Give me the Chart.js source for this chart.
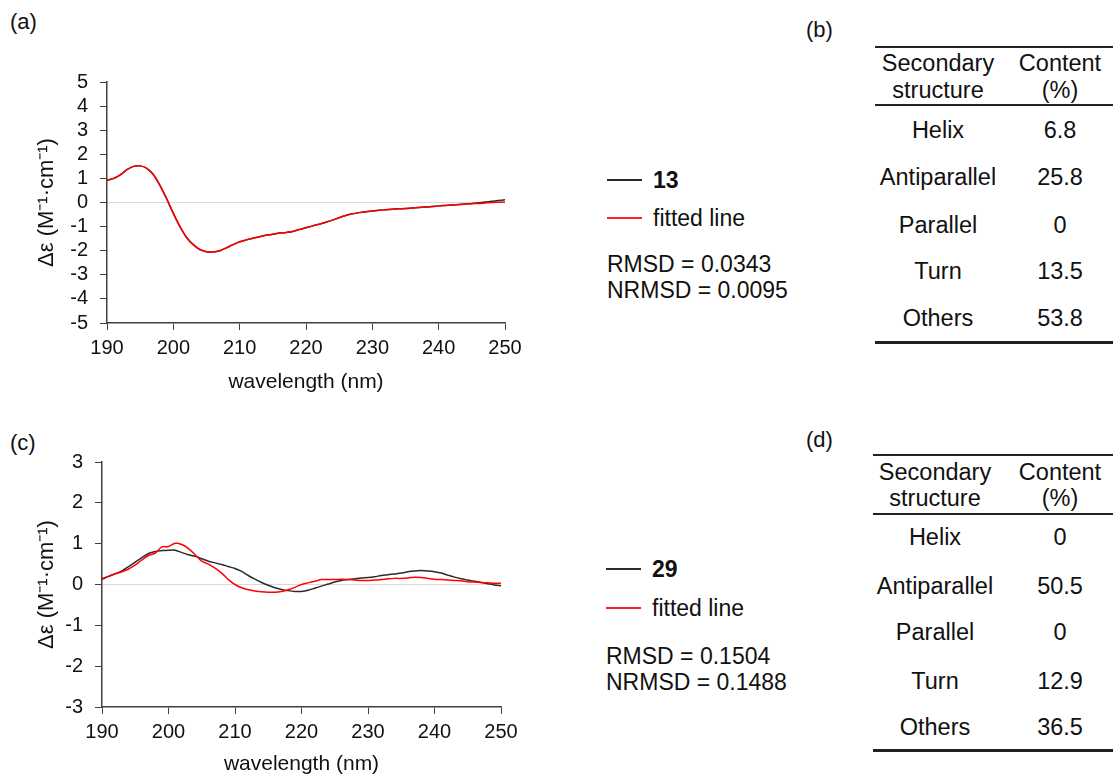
<!DOCTYPE html>
<html lang="en">
<head>
<meta charset="UTF-8">
<title>CD spectra and secondary structure fits</title>
<script src="https://cdn.jsdelivr.net/npm/chart.js"></script>
<style>
    body {
        margin: 0;
        width: 1113px;
        height: 778px;
        position: relative;
        overflow: hidden;
        background: #fff;
        color: #111;
        font-family: 'Liberation Sans', Arial, sans-serif;
    }
    .abs { position: absolute; }
    .tag { position: absolute; font-size: 22px; line-height: 26px; }
    .txt { position: absolute; font-size: 23px; line-height: 28px; white-space: nowrap; }
    .cell { position: absolute; width: 200px; text-align: center; font-size: 23.5px; line-height: 28px; white-space: nowrap; }
    .rule { position: absolute; background: #222; right: 0; }
    .swatch { position: absolute; height: 1.5px; width: 35px; }
</style>
</head>
<body>
<div class="tag" style="left:10px; top:9px;">(a)</div>
<div class="tag" style="left:806px; top:17px;">(b)</div>
<div class="tag" style="left:10px; top:430px;">(c)</div>
<div class="tag" style="left:806px; top:427px;">(d)</div>

<canvas id="chartA" class="abs" width="590" height="340" style="left:0; top:60px;"></canvas>
<canvas id="chartC" class="abs" width="590" height="338" style="left:0; top:440px;"></canvas>

<div id="legendA"></div>
<div id="legendC"></div>
<div id="tableB"></div>
<div id="tableD"></div>

<script>
const wavelengths = [190, 191, 192, 193, 194, 195, 196, 197, 198, 199,
    200, 201, 202, 203, 204, 205, 206, 207, 208, 209,
    210, 211, 212, 213, 214, 215, 216, 217, 218, 219,
    220, 221, 222, 223, 224, 225, 226, 227, 228, 229,
    230, 231, 232, 233, 234, 235, 236, 237, 238, 239,
    240, 241, 242, 243, 244, 245, 246, 247, 248, 249, 250];

// compound 13 and its fit
const measured13 = [0.92, 1.0, 1.15, 1.36, 1.5, 1.52, 1.42, 1.15, 0.7, 0.15,
    -0.45, -1.0, -1.45, -1.75, -1.95, -2.04, -2.05, -2.0, -1.88, -1.75,
    -1.63, -1.55, -1.48, -1.42, -1.36, -1.32, -1.27, -1.24, -1.2, -1.12,
    -1.05, -0.97, -0.9, -0.82, -0.73, -0.63, -0.54, -0.47, -0.42, -0.38,
    -0.35, -0.32, -0.3, -0.28, -0.26, -0.25, -0.23, -0.21, -0.19, -0.17,
    -0.14, -0.12, -0.1, -0.08, -0.06, -0.04, -0.01, 0.02, 0.05, 0.08, 0.11];
const fitted13 = [0.92, 1.0, 1.15, 1.36, 1.5, 1.52, 1.42, 1.15, 0.7, 0.15,
    -0.45, -1.0, -1.45, -1.75, -1.95, -2.04, -2.05, -2.0, -1.88, -1.75,
    -1.63, -1.55, -1.48, -1.42, -1.36, -1.32, -1.27, -1.24, -1.2, -1.12,
    -1.05, -0.97, -0.9, -0.82, -0.73, -0.63, -0.54, -0.47, -0.42, -0.38,
    -0.35, -0.32, -0.3, -0.28, -0.26, -0.25, -0.23, -0.21, -0.19, -0.17,
    -0.14, -0.12, -0.1, -0.09, -0.07, -0.05, -0.04, -0.02, 0.0, 0.01, 0.02];

// compound 29 and its fit
const measured29 = [0.14, 0.2, 0.26, 0.33, 0.44, 0.55, 0.66, 0.76, 0.81, 0.83,
    0.84, 0.84, 0.78, 0.73, 0.69, 0.63, 0.57, 0.53, 0.49, 0.44,
    0.39, 0.32, 0.22, 0.13, 0.05, -0.02, -0.08, -0.12, -0.15, -0.17,
    -0.17, -0.14, -0.09, -0.04, 0.01, 0.06, 0.1, 0.12, 0.14, 0.16,
    0.17, 0.19, 0.22, 0.24, 0.26, 0.28, 0.31, 0.33, 0.34, 0.33,
    0.31, 0.28, 0.23, 0.18, 0.14, 0.11, 0.08, 0.05, 0.02, -0.01, -0.03];
const fitted29 = [0.12, 0.2, 0.27, 0.31, 0.38, 0.48, 0.6, 0.71, 0.77, 0.92,
    0.93, 1.01, 0.98, 0.88, 0.73, 0.57, 0.5, 0.4, 0.28, 0.12,
    0.0, -0.08, -0.13, -0.16, -0.18, -0.19, -0.19, -0.17, -0.13, -0.07,
    0.0, 0.04, 0.08, 0.12, 0.12, 0.12, 0.13, 0.12, 0.11, 0.1,
    0.1, 0.11, 0.12, 0.14, 0.15, 0.15, 0.16, 0.18, 0.17, 0.15,
    0.13, 0.12, 0.11, 0.1, 0.09, 0.07, 0.06, 0.05, 0.04, 0.03, 0.03];

const xTicks = [190, 200, 210, 220, 230, 240, 250];
const structures = ['Helix', 'Antiparallel', 'Parallel', 'Turn', 'Others'];
const content13 = ['6.8', '25.8', '0', '13.5', '53.8'];
const content29 = ['0', '50.5', '0', '12.9', '36.5'];

const axisColor = '#404040';

function points(ys) {
    return wavelengths.map((w, i) => ({ x: w, y: ys[i] }));
}

function spectrumChart(id, measured, fitted, yMin, yMax, g) {
    return new Chart(document.getElementById(id), {
        type: 'line',
        data: {
            datasets: [
                { label: 'fitted line', data: points(fitted), borderColor: '#ff0000', borderWidth: 1.5,
                  pointRadius: 0, tension: 0.3, order: 0 },
                { label: 'measured', data: points(measured), borderColor: '#2b2b2b', borderWidth: 1.5,
                  pointRadius: 0, tension: 0.3, order: 1 }
            ]
        },
        options: {
            responsive: false,
            animation: false,
            events: [],
            layout: { padding: { top: g.top, right: g.right, left: 0, bottom: 0 } },
            plugins: { legend: { display: false }, tooltip: { enabled: false } },
            scales: {
                x: {
                    type: 'linear', min: 190, max: 250,
                    afterBuildTicks: s => { s.ticks = xTicks.map(v => ({ value: v })); },
                    ticks: { color: '#111', font: { size: 20 }, padding: 6, maxRotation: 0, autoSkip: false },
                    grid: { drawOnChartArea: false, tickLength: 7, tickColor: axisColor },
                    border: { color: axisColor, width: 1.5 },
                    title: { display: true, text: 'wavelength (nm)', color: '#111', font: { size: 21 },
                             padding: { top: 0, bottom: g.xTitlePad } },
                    afterFit: s => { s.height = g.xAxisH; }
                },
                y: {
                    min: yMin, max: yMax,
                    ticks: { stepSize: 1, color: '#111', font: { size: 20, lineHeight: 1 }, padding: 12, autoSkip: false },
                    grid: {
                        color: c => (c.tick && c.tick.value === 0) ? '#d9d9d9' : 'rgba(0,0,0,0)',
                        tickLength: 7, tickColor: axisColor
                    },
                    border: { color: axisColor, width: 1.5 },
                    title: { display: true, text: 'Δε (M⁻¹·cm⁻¹)', color: '#111', font: { size: 22 },
                             padding: { top: 34, bottom: 0 } },
                    afterFit: s => { s.width = g.yAxisW; }
                }
            }
        }
    });
}

spectrumChart('chartA', measured13, fitted13, -5, 5,
    { top: 16, right: 85, yAxisW: 107, xAxisH: 77, xTitlePad: 5 });
spectrumChart('chartC', measured29, fitted29, -3, 3,
    { top: 20, right: 89, yAxisW: 102, xAxisH: 71, xTitlePad: 1 });

function addText(parent, cls, text, left, centerY, extra) {
    const d = document.createElement('div');
    d.className = cls;
    d.textContent = text;
    d.style.left = left + 'px';
    d.style.top = (centerY - 14) + 'px';
    if (extra) Object.assign(d.style, extra);
    parent.appendChild(d);
}

function buildLegend(id, name, g) {
    const el = document.getElementById(id);
    const s1 = document.createElement('div');
    s1.className = 'swatch';
    Object.assign(s1.style, { left: g.x + 'px', top: (g.y1 - 1) + 'px', background: '#2b2b2b' });
    el.appendChild(s1);
    const s2 = document.createElement('div');
    s2.className = 'swatch';
    Object.assign(s2.style, { left: g.x + 'px', top: (g.y2 - 1) + 'px', background: '#ff2020' });
    el.appendChild(s2);
    addText(el, 'txt', name, g.x + 46, g.y1, { fontWeight: 'bold' });
    addText(el, 'txt', 'fitted line', g.x + 46, g.y2);
    addText(el, 'txt', 'RMSD = ' + g.rmsd, g.x, g.y3);
    addText(el, 'txt', 'NRMSD = ' + g.nrmsd, g.x, g.y4);
}

buildLegend('legendA', '13', { x: 607, y1: 180, y2: 218, y3: 264, y4: 290, rmsd: '0.0343', nrmsd: '0.0095' });
buildLegend('legendC', '29', { x: 606, y1: 569, y2: 608, y3: 656, y4: 682, rmsd: '0.1504', nrmsd: '0.1488' });

function addRule(parent, left, y, h) {
    const r = document.createElement('div');
    r.className = 'rule';
    Object.assign(r.style, { left: left + 'px', top: (y - h / 2) + 'px', height: h + 'px' });
    parent.appendChild(r);
}

function buildTable(id, values, g) {
    const el = document.getElementById(id);
    addRule(el, g.left, g.top, 2);
    addRule(el, g.left, g.mid, 1.5);
    addRule(el, g.left, g.bottom, 3);
    addText(el, 'cell', 'Secondary', g.c1 - 100, g.h1);
    addText(el, 'cell', 'structure', g.c1 - 100, g.h2);
    addText(el, 'cell', 'Content', g.c2 - 100, g.h1);
    addText(el, 'cell', '(%)', g.c2 - 100, g.h2);
    structures.forEach((s, i) => {
        addText(el, 'cell', s, g.c1 - 100, g.rows[i]);
        addText(el, 'cell', values[i], g.c2 - 100, g.rows[i]);
    });
}

buildTable('tableB', content13, { left: 875, top: 47, mid: 105, bottom: 342, c1: 938, c2: 1060,
    h1: 63, h2: 90, rows: [130, 177, 225, 271, 318] });
buildTable('tableD', content29, { left: 873, top: 455, mid: 514, bottom: 750, c1: 935, c2: 1060,
    h1: 472, h2: 498, rows: [537, 586, 632, 681, 727] });
</script>
</body>
</html>
